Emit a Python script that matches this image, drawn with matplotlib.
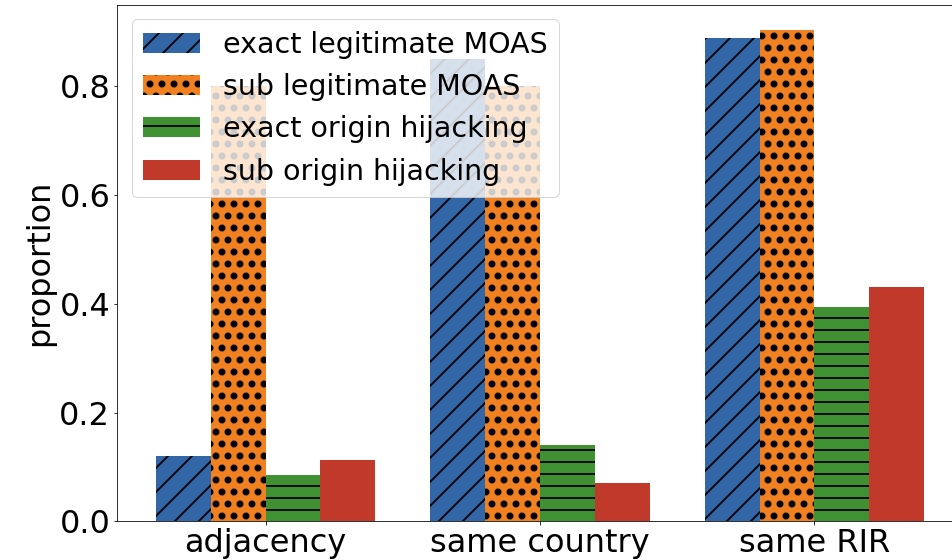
import numpy as np
import matplotlib
matplotlib.use("Agg")
import matplotlib.pyplot as plt

categories = ["adjacency", "same country", "same RIR"]
series_names = ["exact legitimate MOAS", "sub legitimate MOAS",
                "exact origin hijacking", "sub origin hijacking"]
exact_legit = [0.121, 0.850, 0.887]
sub_legit = [0.800, 0.800, 0.903]
exact_hijack = [0.0855, 0.141, 0.393]
sub_hijack = [0.1125, 0.070, 0.431]

colors = ["#3366a6", "#f08020", "#409132", "#c0392b"]
hatches = ["/", ".", "-", ""]
# dots need a heavier stroke to come out as solid circles
hatch_widths = [1.8, 4.5, 1.8, 1.8]


def set_hatch_width(patch, lw):
    if hasattr(patch, "set_hatch_linewidth"):
        patch.set_hatch_linewidth(lw)


fig = plt.figure(figsize=(952 / 72, 560 / 72), dpi=72)
ax = fig.add_axes([0.1232, 0.0688, 0.888, 0.922])

x = np.arange(len(categories))
width = 0.2
values = [exact_legit, sub_legit, exact_hijack, sub_hijack]
for i, vals in enumerate(values):
    with plt.rc_context({"hatch.linewidth": hatch_widths[i]}):
        bars = ax.bar(x + (i - 1.5) * width, vals, width, color=colors[i],
                      hatch=hatches[i], edgecolor="black", linewidth=0,
                      label=series_names[i])
    for b in bars:
        set_hatch_width(b, hatch_widths[i])

ax.set_xticks(x)
ax.set_xticklabels(categories, fontsize=32)
ax.tick_params(axis="y", labelsize=32)
ax.set_ylabel("proportion", fontsize=32)
leg = ax.legend(loc="upper left", fontsize=28.5)
for h, lw in zip(leg.legend_handles, hatch_widths):
    set_hatch_width(h, lw)

fig.savefig("out.png", dpi=72)
